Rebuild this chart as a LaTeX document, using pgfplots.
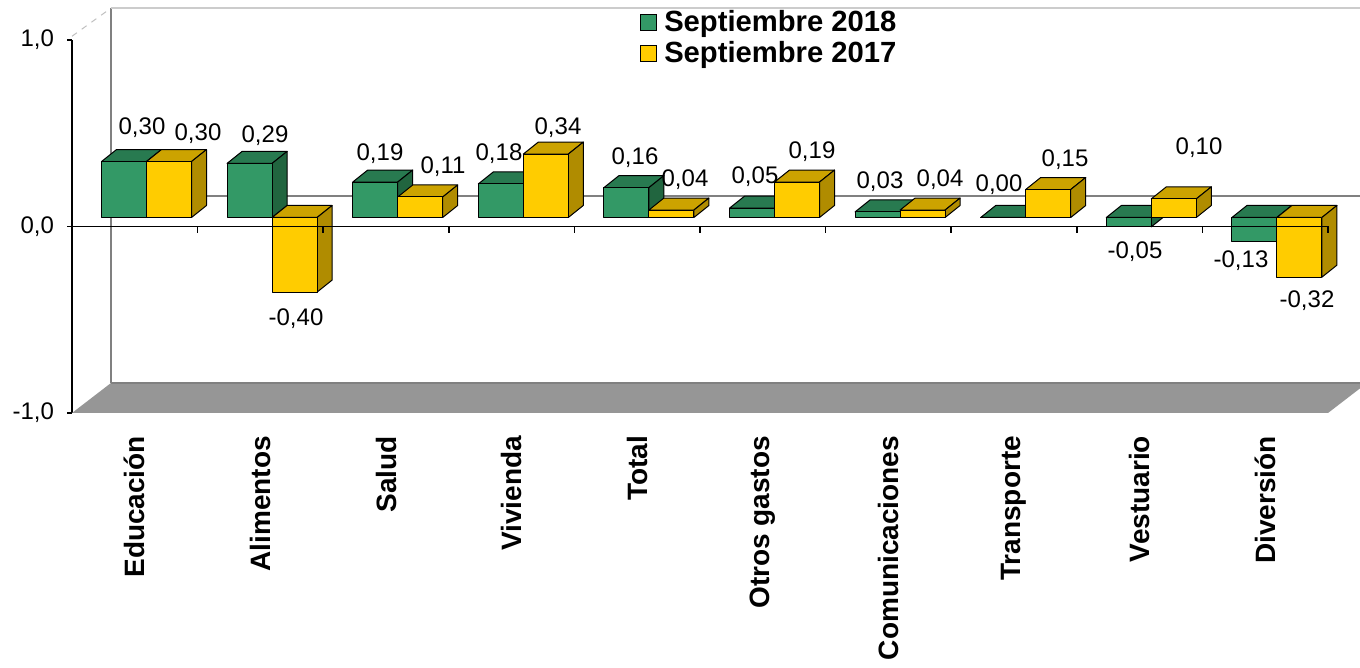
\documentclass[border=0pt]{standalone}
\usepackage{pgfplots}
\usepackage{pgfplotstable}
\pgfplotsset{compat=1.18}
\usepackage{fontspec}
\setmainfont{Liberation Sans}
\definecolor{gfront}{HTML}{339966}
\definecolor{gtop}{HTML}{287A50}
\definecolor{gside}{HTML}{21653F}
\definecolor{yfront}{HTML}{FFCC00}
\definecolor{ytop}{HTML}{CCA300}
\definecolor{yside}{HTML}{B08C00}
\definecolor{floorgray}{HTML}{969696}

% 3-D bar drawn at the data point: #1 centre offset (pt), #2 front, #3 top, #4 side colour
\newcommand\cubefaces[4]{%
  \pgfmathsetmacro\cubeH{\rawy*93.25}%
  \pgfmathsetmacro\cubeYt{4.5+max(0,-\cubeH)}%
  \pgfmathsetmacro\cubeYb{4.5+min(0,-\cubeH)}%
  \pgfmathsetmacro\cubeL{#1-11.25}%
  \pgfmathsetmacro\cubeR{#1+11.25}%
  \pgfsetlinewidth{0.5pt}%
  \pgfsetstrokecolor{black}%
  \pgfsetroundjoin
  \pgfsetfillcolor{#3}%
  \pgfpathmoveto{\pgfpoint{\cubeL pt}{\cubeYt pt}}%
  \pgfpathlineto{\pgfpoint{\cubeR pt}{\cubeYt pt}}%
  \pgfpathlineto{\pgfpoint{\cubeR pt+7.5pt}{\cubeYt pt+6pt}}%
  \pgfpathlineto{\pgfpoint{\cubeL pt+7.5pt}{\cubeYt pt+6pt}}%
  \pgfpathclose
  \pgfusepath{fill,stroke}%
  \pgfsetfillcolor{#4}%
  \pgfpathmoveto{\pgfpoint{\cubeR pt}{\cubeYb pt}}%
  \pgfpathlineto{\pgfpoint{\cubeR pt}{\cubeYt pt}}%
  \pgfpathlineto{\pgfpoint{\cubeR pt+7.5pt}{\cubeYt pt+6pt}}%
  \pgfpathlineto{\pgfpoint{\cubeR pt+7.5pt}{\cubeYb pt+6pt}}%
  \pgfpathclose
  \pgfusepath{fill,stroke}%
  \pgfsetfillcolor{#2}%
  \pgfpathrectanglecorners{\pgfpoint{\cubeL pt}{\cubeYb pt}}{\pgfpoint{\cubeR pt}{\cubeYt pt}}%
  \pgfusepath{fill,stroke}%
}
\pgfdeclareplotmark{cubeG}{\cubefaces{-5.4}{gfront}{gtop}{gside}}
\pgfdeclareplotmark{cubeY}{\cubefaces{17.1}{yfront}{ytop}{yside}}

% values; gx,gy,yx,yy = offsets (pt) of the value labels from the data point
\pgfplotstableread{
cat s18 s17 gx gy yx yy
0.5 0.30 0.30 3.6 21.2 31.6 18.3
1.5 0.29 -0.40 2.3 18.2 17.8 -9.0
2.5 0.19 0.11 -3.0 18.5 28.5 19.5
3.5 0.18 0.34 -6.3 19.5 23.2 17.5
4.5 0.16 0.04 -1.1 19.4 23.9 19.5
5.5 0.05 0.19 -3.9 20.1 24.6 19.5
6.5 0.03 0.04 -4.2 19.5 25.8 19.5
7.5 0.00 0.15 -7.5 20.8 25.5 19.3
8.5 -0.05 0.10 -2.3 -8.1 29.7 29.9
9.5 -0.13 -0.32 -12.1 -5.2 20.9 -7.4
}\data

\begin{document}
\begin{tikzpicture}
\useasboundingbox (0,0) rectangle (680pt,334pt);
\begin{axis}[
  at={(36pt,127.5pt)}, anchor=south west,
  scale only axis, width=628pt, height=186.5pt,
  xmin=0, xmax=10, ymin=-1, ymax=1,
  clip=false,
  axis x line*=bottom, axis y line*=left,
  x axis line style={draw=none},
  y axis line style={black, line width=0.75pt, -},
  xtick={0.5,1.5,...,9.5},
  xticklabels={Educación,Alimentos,Salud,Vivienda,Total,Otros gastos,Comunicaciones,Transporte,Vestuario,Diversión},
  x tick style={draw=none},
  xticklabel style={rotate=90, anchor=east, font=\bfseries\fontsize{14}{16}\selectfont},
  xticklabel shift=5.5pt,
  ytick={-1,0,1},
  y tick style={black, line width=0.75pt},
  tick align=outside, major tick length=2.5pt,
  yticklabel shift=3pt,
  yticklabel style={font=\fontsize{12}{14}\selectfont, /pgf/number format/fixed, /pgf/number format/fixed zerofill, /pgf/number format/precision=1, /pgf/number format/use comma, /pgf/number format/assume math mode=true},
  legend style={at={(rel axis cs:0.4522,1.0884)}, anchor=north west, draw=none, fill=none,
    font=\bfseries\fontsize{14.6}{16}\selectfont, row sep=0pt, inner sep=0pt,
    nodes={inner sep=1.7pt}},
  legend cell align=left,
  every node near coord/.append style={anchor=center, font=\fontsize{12}{14}\selectfont, text=black,
    /pgf/number format/fixed, /pgf/number format/fixed zerofill, /pgf/number format/precision=2, /pgf/number format/use comma, /pgf/number format/assume math mode=true},
  after end axis/.code={
    \draw[black, line width=0.75pt] (axis cs:0,0) -- (axis cs:10,0);
    \foreach \k in {1,...,10} {\draw[black, line width=0.75pt] (axis cs:\k,0) -- ++(0pt,-3.5pt);}
  },
]
% back wall and floor
\fill[floorgray] (axis cs:0,-1) -- (axis cs:10,-1) -- (axis cs:10.3105,-0.8391) -- (axis cs:0.3105,-0.8391) -- cycle;
\draw[gray, line width=1pt] (axis cs:0.3105,-0.8391) -- (axis cs:10.4,-0.8391);
\draw[gray, line width=1pt] (axis cs:0.3105,-0.8391) -- (axis cs:0.3105,1.1709);
\draw[black!20, line width=1pt] (axis cs:0.3105,1.1709) -- (axis cs:10.4,1.1709);
\draw[black!25, dashed, line width=0.5pt] (axis cs:0,1.02) -- (axis cs:0.3105,1.1709);
\draw[black!50, line width=1pt] (axis cs:0.3105,0.1609) -- (axis cs:10.4,0.1609);

\addplot[only marks, mark=cubeG,
  visualization depends on={rawy\as\rawy},
  visualization depends on={\thisrow{gx}\as\labx},
  visualization depends on={\thisrow{gy}\as\laby},
  nodes near coords,
  every node near coord/.append style={xshift={\labx}, yshift={\laby}},
  legend image code/.code={\draw[fill=gfront, draw=black, line width=0.5pt] (0pt,-4pt) rectangle (8pt,4pt); \path (9.8pt,0pt);}
] table[x=cat, y=s18] {\data};
\addlegendentry{Septiembre 2018}

\addplot[only marks, mark=cubeY,
  visualization depends on={rawy\as\rawy},
  visualization depends on={\thisrow{yx}\as\labx},
  visualization depends on={\thisrow{yy}\as\laby},
  nodes near coords,
  every node near coord/.append style={xshift={\labx}, yshift={\laby}},
  legend image code/.code={\draw[fill=yfront, draw=black, line width=0.5pt] (0pt,-4pt) rectangle (8pt,4pt); \path (9.8pt,0pt);}
] table[x=cat, y=s17] {\data};
\addlegendentry{Septiembre 2017}
\end{axis}
\end{tikzpicture}
\end{document}
